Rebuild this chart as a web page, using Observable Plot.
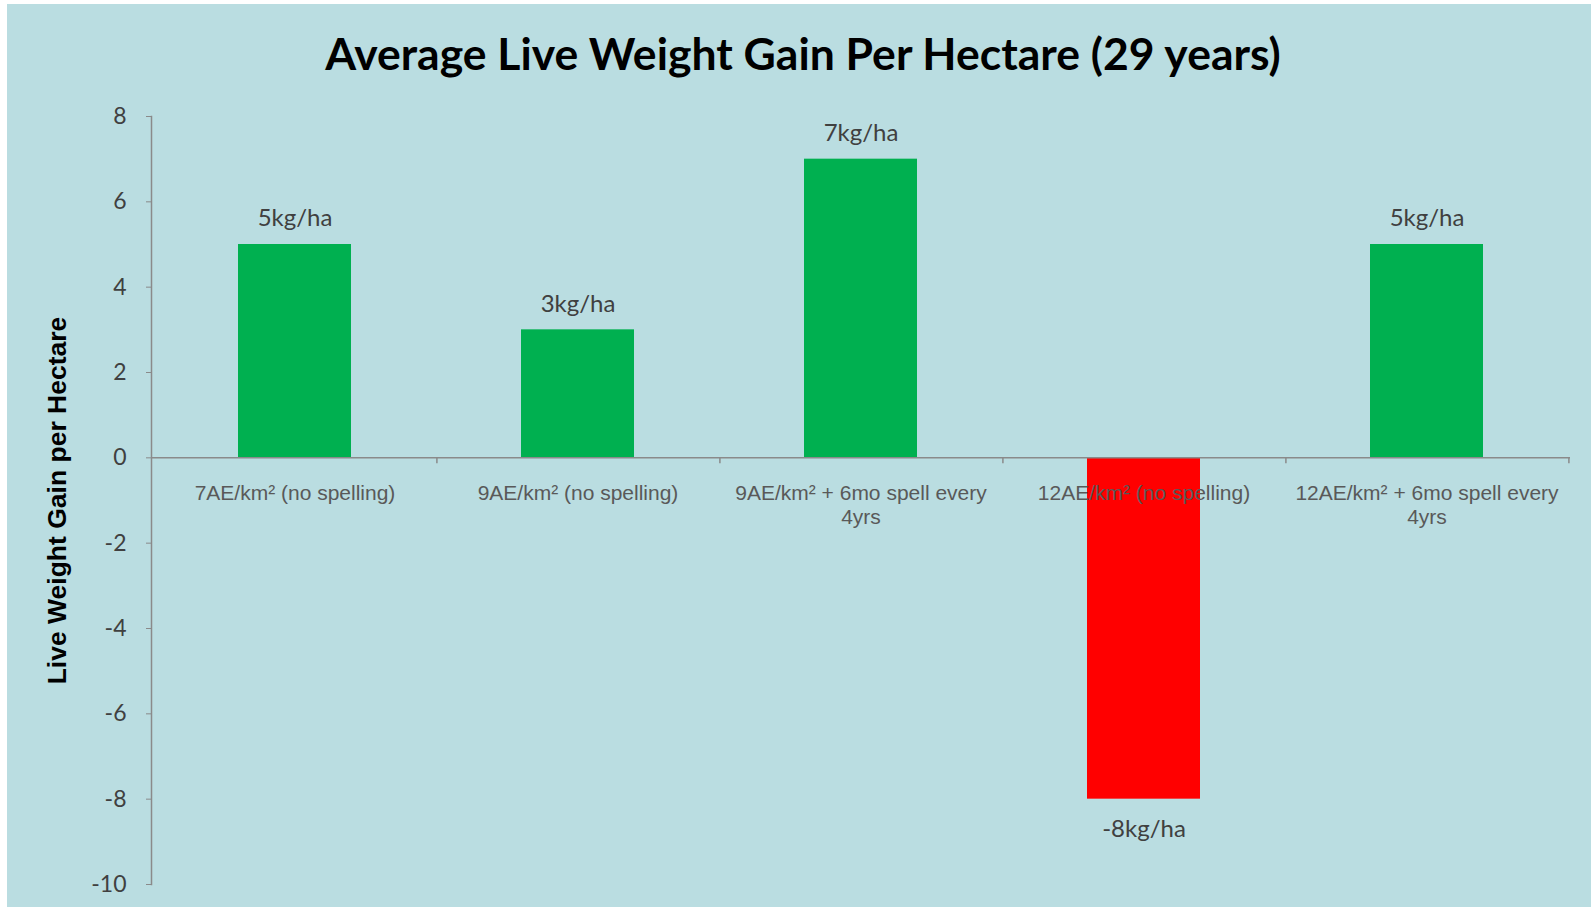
<!DOCTYPE html>
<html><head><meta charset="utf-8">
<script src="https://cdn.jsdelivr.net/npm/d3@7"></script>
<script src="https://cdn.jsdelivr.net/npm/@observablehq/plot@0.6"></script>
<style>
body{margin:0;background:#fff;width:1591px;height:907px;overflow:hidden;position:relative}
#panel{position:absolute;left:7px;top:4px;width:1584px;height:903px;background:#BADDE1}
#title{position:absolute;left:11px;width:1584px;top:31px;text-align:center;font:bold 44.5px Lato;line-height:44px;color:#000;white-space:nowrap}
#chart{position:absolute;left:0;top:0}
</style></head><body>
<div id="panel"></div>
<div id="title">Average Live Weight Gain Per Hectare (29 years)</div>
<div id="chart"></div>
<script>
const categories = ["7AE/km² (no spelling)", "9AE/km² (no spelling)", "9AE/km² + 6mo spell every 4yrs", "12AE/km² (no spelling)", "12AE/km² + 6mo spell every 4yrs"];
const tickLabels = ["7AE/km² (no spelling)", "9AE/km² (no spelling)", "9AE/km² + 6mo spell every\n4yrs", "12AE/km² (no spelling)", "12AE/km² + 6mo spell every\n4yrs"];
const values = [5, 3, 7, -8, 5];
const valueLabels = ["5kg/ha", "3kg/ha", "7kg/ha", "-8kg/ha", "5kg/ha"];
const yTicks = [-10, -8, -6, -4, -2, 0, 2, 4, 6, 8];
const yLabel = "Live Weight Gain per Hectare";

const data = categories.map((c, i) => ({cat: c, label: tickLabels[i], value: values[i], vlabel: valueLabels[i]}));
const W = 1591, H = 907, mL = 151, mR = 21, mT = 116, mB = 23;
const step = (W - mL - mR) / categories.length;
const axisColor = "#8a8a8a";

const chart = Plot.plot({
  width: W, height: H,
  marginLeft: mL, marginRight: mR, marginTop: mT, marginBottom: mB,
  style: {background: "transparent", overflow: "visible"},
  x: {domain: categories, paddingInner: 0.6, paddingOuter: 0.3, axis: null},
  y: {domain: [-10, 8], axis: null},
  marks: [
    Plot.barY(data, {x: "cat", y: "value", fill: d => d.value < 0 ? "#FF0000" : "#00B050"}),
    Plot.ruleY([0], {stroke: axisColor, strokeWidth: 1.5}),
    Plot.frame({anchor: "left", stroke: axisColor, strokeWidth: 1.5}),
    Plot.ruleX(data, {x: "cat", y1: () => 0, y2: () => 0, insetBottom: -6, dx: step / 2, stroke: axisColor, strokeWidth: 1.5}),
    Plot.axisY({ticks: yTicks, tickSize: 5, tickPadding: 20, tickFormat: d => String(d), label: null,
      stroke: axisColor, fill: "#404040", fontSize: 23, fontFamily: "Lato"}),
    Plot.text(data, {x: "cat", y: () => 0, text: "label", lineAnchor: "top", dy: 25, lineHeight: 1.14,
      fontSize: 21, fontFamily: "Liberation Sans, Arial", fill: "#595959"}),
    Plot.text(data.filter(d => d.value >= 0), {x: "cat", y: "value", text: "vlabel", dy: -26,
      fontSize: 24, fontFamily: "Lato", fill: "#404040"}),
    Plot.text(data.filter(d => d.value < 0), {x: "cat", y: "value", text: "vlabel", dy: 30,
      fontSize: 24, fontFamily: "Lato", fill: "#404040"}),
    Plot.text([yLabel], {frameAnchor: "left", textAnchor: "middle", rotate: -90, dx: -94, text: d => d,
      fontSize: 26.5, fontWeight: "bold", fontFamily: "Liberation Sans, Arial", fill: "#000"})
  ]
});
document.getElementById("chart").appendChild(chart);
</script>
</body></html>
